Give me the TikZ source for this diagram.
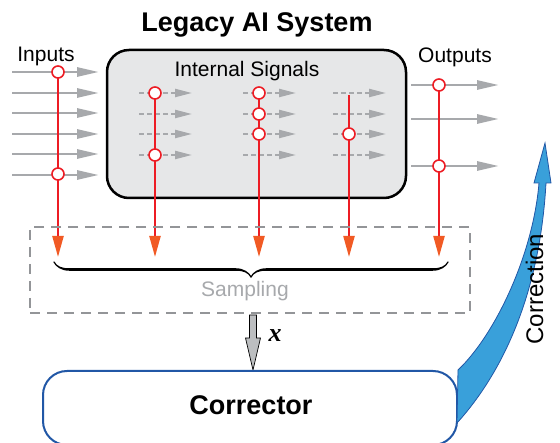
\documentclass[tikz,border=0pt]{standalone}
\usepackage{fontspec}
\setmainfont{Liberation Sans}
\newfontfamily\xfont{Liberation Serif}
\usetikzlibrary{arrows.meta,decorations.pathreplacing,calligraphy}

\definecolor{sigGray}{HTML}{A7A9AC}
\definecolor{dashGray}{HTML}{939598}
\definecolor{arrowGray}{HTML}{BCBEC0}
\definecolor{boxGray}{HTML}{E6E7E8}
\definecolor{tapRed}{HTML}{ED1C24}
\definecolor{tipRed}{HTML}{F15A24}
\definecolor{corrBlue}{HTML}{2157A6}
\definecolor{fillBlue}{HTML}{39A0DA}

\tikzset{
	sig/.style={draw=sigGray, line width=2.8pt, -{Triangle[length=22pt,width=9pt]}},
	intsig/.style={draw=sigGray, line width=2.2pt, dash pattern=on 5pt off 3pt, -{Triangle[length=17pt,width=8pt]}},
	tapline/.style={draw=tapRed, line width=2.2pt, -{Triangle[length=21pt,width=11pt,color=tipRed]}},
	tap/.style={circle, draw=tapRed, fill=white, line width=1.6pt, minimum size=12pt, inner sep=0pt},
	lbl/.style={anchor=base, font=\fontsize{21}{25}\selectfont},
}

\begin{document}
\begin{tikzpicture}[x=1pt, y=-1pt]

	\useasboundingbox (0,0) rectangle (560,443);

	% legacy system
	\node[anchor=base, font=\fontsize{27}{32}\selectfont\bfseries] (title) at (257,32) {Legacy AI System};
	\node[draw, fill=boxGray, line width=2.5pt, rounded corners=22pt, minimum width=299pt, minimum height=148pt] (legacy) at (256.5,124) {};
	\node[lbl] (inlbl) at (46,62) {Inputs};
	\node[lbl] (outlbl) at (455,63) {Outputs};
	\node[lbl] (intlbl) at (247,77) {Internal Signals};

	% signals
	\foreach \y [count=\i] in {72,93,113,134,154,175} {
		\coordinate (ins\i) at (12,\y);
		\coordinate (ine\i) at (99,\y);
		\draw[sig] (ins\i) -- (ine\i);
	}
	\foreach \x in {139,243,333} {
		\foreach \y in {93,114,134,155} {
			\coordinate (is\x-\y) at (\x,\y);
			\coordinate (ie\x-\y) at (\x+53,\y);
			\draw[intsig] (is\x-\y) -- (ie\x-\y);
		}
	}
	\foreach \y [count=\i] in {85,119,166} {
		\coordinate (outs\i) at (411,\y);
		\coordinate (oute\i) at (499,\y);
		\draw[sig] (outs\i) -- (oute\i);
	}

	% taps
	\foreach \x/\y [count=\i] in {58/72,155/93,259/93,349/95,439/85} {
		\coordinate (tt\i) at (\x,\y);
		\coordinate (te\i) at (\x,257);
		\draw[tapline] (tt\i) -- (te\i);
	}
	\foreach \x/\y [count=\i] in {58/72,58/174,155/93,155/155,259/93,259/114,259/134,349/134,439/85,439/166}
		\node[tap] (c\i) at (\x,\y) {};

	% sampling
	\node[draw=dashGray, dash pattern=on 10pt off 7pt, line width=2.6pt, minimum width=440pt, minimum height=86pt, inner sep=0pt] (sampling) at (250,270) {};
	\coordinate (bl) at (54,262);
	\coordinate (br) at (448,262);
	\draw[decorate, decoration={calligraphic brace, amplitude=15pt, mirror}, line width=2.5pt] (bl) -- (br);
	\node[lbl, text=sigGray] (samplbl) at (245,297) {Sampling};

	\draw[fill=arrowGray, line width=0.7pt] (249.5,315) -- (256.5,315) -- (256.5,338) -- (260.5,338) -- (253,370) -- (245.5,338) -- (249.5,338) -- cycle;
	\node[anchor=base, font=\xfont\bfseries\itshape\fontsize{26}{30}\selectfont] (xlbl) at (275,342) {x};

	% corrector
	\node[draw=corrBlue, fill=white, line width=2pt, rounded corners=24pt, minimum width=414pt, minimum height=74pt] (corrector) at (250,408) {};
	\node[anchor=base, font=\fontsize{27}{32}\selectfont\bfseries] (corrlbl) at (251,415) {Corrector};

	\draw[draw=corrBlue, fill=fillBlue, line width=0.8pt] (corrector.north east) .. controls (495,335) and (533,255) .. (539,183) -- (534,183) -- (545,143) -- (551,183) -- (546,183) .. controls (540,290) and (505,370) .. (457,423) -- cycle;
	\node[anchor=base, rotate=90, font=\fontsize{24}{28}\selectfont] (fixlbl) at (543,289) {Correction};

\end{tikzpicture}
\end{document}
